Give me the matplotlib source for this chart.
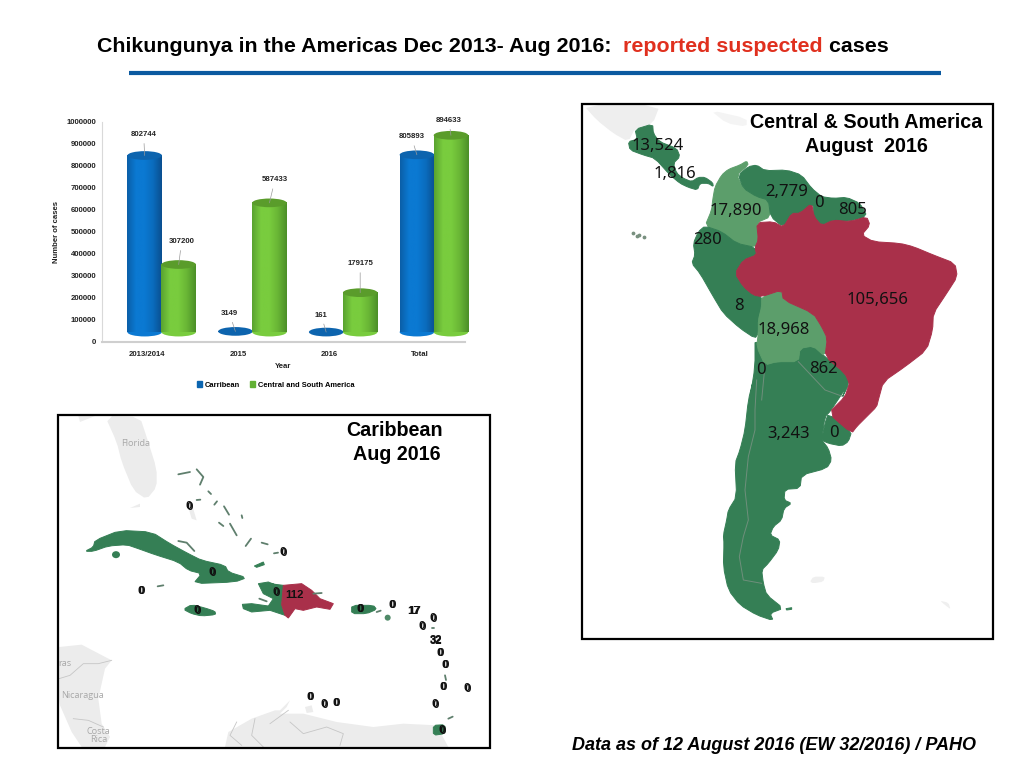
#!/usr/bin/env python3
# -*- coding: utf-8 -*-
"""Chikungunya slide: 3D-look bar chart plus two hand traced maps."""
import numpy as np
import matplotlib
matplotlib.use('Agg')
import matplotlib.pyplot as plt
from matplotlib.colors import LinearSegmentedColormap
from matplotlib.patches import Ellipse, Patch, Polygon, Rectangle

plt.rcParams['font.family'] = ['Liberation Sans', 'DejaVu Sans']

# chart data
years = ['2013/2014', '2015', '2016', 'Total']
carribean = [802744, 3149, 161, 805893]
central_south = [307200, 587433, 179175, 894633]
y_ticks = [0, 100000, 200000, 300000, 400000, 500000, 600000, 700000, 800000, 900000, 1000000]

# map labels (text, x px, y px)
sa_labels = [('13,524', 658, 146), ('1,816', 675, 174), ('2,779', 787, 192), ('0', 819, 203),
             ('805', 853, 210), ('17,890', 736, 211), ('280', 708, 240), ('105,656', 877, 300),
             ('8', 739, 306), ('18,968', 784, 330), ('0', 761, 370), ('862', 823, 369),
             ('3,243', 789, 434), ('0', 834, 433)]
carib_labels = [('0', 189, 506), ('0', 212, 572), ('0', 141, 591), ('0', 197, 610), ('0', 283, 552),
                ('0', 276, 592), ('112', 295, 595), ('0', 360, 609), ('0', 392, 605), ('17', 414, 611),
                ('0', 433, 618), ('0', 422, 626), ('32', 436, 640), ('0', 440, 653), ('0', 445, 665),
                ('0', 443, 687), ('0', 467, 688), ('0', 435, 704), ('0', 310, 697), ('0', 324, 704),
                ('0', 336, 703), ('0', 442, 730)]

GREEN = '#357f55'
LIGHT = '#5c9e6b'
RED = '#a9304a'
GREY = '#ececec'


def z(pts, ox, oy):
    # outlines were traced on 3x crops, back to slide pixels
    return [(ox + x / 3, oy + y / 3) for x, y in pts]


def za(pts):
    return z(pts, 580, 100)


def zb(pts):
    return z(pts, 580, 380)


def zc(pts):
    return z(pts, 55, 412)


def zd(pts):
    return z(pts, 270, 412)


def soften(pts, n=1):
    # corner cutting, the traced outlines are too angular otherwise
    p = np.array(pts, dtype=float)
    for _ in range(n):
        q = np.roll(p, -1, axis=0)
        p = np.column_stack([0.8 * p + 0.2 * q, 0.2 * p + 0.8 * q]).reshape(-1, 2)
    return p


fig = plt.figure(figsize=(10.24, 7.68), dpi=100)
bg = fig.add_axes([0, 0, 1, 1])
bg.set_xlim(0, 1024)
bg.set_ylim(768, 0)
bg.axis('off')

# title, three colours on one baseline
x_pos = 97
rend = fig.canvas.get_renderer()
for txt, col in [('Chikungunya in the Americas Dec 2013- Aug 2016: ', 'black'),
                 ('reported suspected', '#e0301e'), (' cases', 'black')]:
    t = bg.text(x_pos, 52, txt, fontsize=15.4, fontweight='bold', color=col, va='baseline')
    # trailing spaces count for nothing in the extent, so add one by hand
    w = t.get_window_extent(rend).width
    x_pos += w
    if txt.endswith(' '):
        x_pos += 5.9
bg.plot([129, 941], [72.5, 72.5], color='#0b5aa0', lw=3, solid_capstyle='butt')
bg.text(774, 745, 'Data as of 12 August 2016 (EW 32/2016) / PAHO', fontsize=13, fontweight='bold',
        style='italic', ha='center', va='center')


def poly(pts, color, clip=None, smooth=True):
    pts = soften(pts) if smooth else pts
    edge = color if color in (GREEN, LIGHT, RED) else 'none'
    p = Polygon(pts, closed=True, facecolor=color, edgecolor=edge, linewidth=0.7, zorder=2)
    bg.add_patch(p)
    if clip is not None:
        p.set_clip_path(clip)
    return p


# ---------- South America map ----------
sa_box = Rectangle((582, 104), 411, 535, transform=bg.transData)
poly(za([(10, 15), (240, 15), (218, 72), (165, 85), (145, 125), (100, 100), (50, 60)]), '#eeeeee', sa_box)
poly(za([(390, 30), (500, 55), (500, 80), (440, 70)]), '#f4f4f4', sa_box)
poly(za([(165, 88), (218, 72), (220, 100), (238, 125), (290, 145), (300, 170), (280, 190), (290, 220),
         (310, 235), (335, 245), (355, 232), (375, 232), (398, 248), (400, 260), (385, 250), (360, 250),
         (352, 270), (325, 262), (300, 250), (270, 225), (225, 175), (190, 165), (150, 150), (145, 125),
         (172, 118)]), GREEN)
poly(za([(500, 183), (480, 195), (445, 208), (425, 225), (405, 260), (398, 300), (395, 330), (375, 378),
         (425, 395), (470, 430), (525, 442), (535, 420), (530, 368), (572, 350), (565, 300), (530, 290),
         (490, 265), (470, 225), (505, 195)]), LIGHT)
poly(za([(505, 200), (530, 195), (555, 212), (620, 210), (665, 225), (695, 265), (725, 290), (760, 295),
         (800, 292), (840, 310), (862, 350), (800, 365), (760, 360), (725, 377), (700, 350), (700, 310),
         (660, 340), (635, 340), (610, 382), (572, 350), (565, 300), (530, 290), (490, 265), (475, 225)]), GREEN)
poly(za([(375, 378), (425, 395), (470, 430), (525, 442), (530, 465), (490, 480), (465, 520), (490, 560),
         (520, 585), (545, 590), (545, 620), (535, 660), (535, 700), (525, 715), (480, 685), (430, 640),
         (400, 590), (360, 520), (335, 490), (345, 465), (340, 430), (355, 395)]), GREEN)
poly(za([(525, 710), (555, 795), (590, 785), (655, 785), (660, 745), (700, 738), (735, 770), (795, 820),
         (808, 850), (785, 895)]) +
     zb([(800, 20), (750, 95), (735, 110), (725, 180), (745, 205), (755, 240), (740, 265), (665, 285),
         (660, 325), (615, 328), (612, 360), (635, 370), (612, 385), (605, 420), (580, 440), (570, 465),
         (600, 480), (595, 510), (565, 550), (545, 570), (550, 610), (560, 645), (610, 685), (570, 700),
         (580, 722), (530, 705), (480, 675), (445, 630), (430, 560), (432, 490), (430, 465), (440, 420),
         (445, 390), (470, 350), (465, 250), (480, 210), (495, 150), (505, 60), (520, 0)]) +
     za([(510, 895), (525, 800)]), GREEN)
poly(zb([(745, 100), (815, 155), (805, 185), (785, 198), (745, 190), (725, 180), (735, 130)]), GREEN)
poly(za([(545, 590), (605, 570), (610, 600), (700, 640), (725, 680), (742, 715), (735, 770), (700, 738),
         (660, 745), (655, 785), (590, 785), (555, 795), (530, 740), (535, 700), (535, 660), (545, 620)]), LIGHT)
poly(za([(530, 368), (580, 365), (610, 382), (635, 340), (660, 340), (695, 310), (702, 350), (725, 377),
         (760, 360), (810, 365), (860, 350), (870, 375), (845, 405), (880, 425), (960, 430), (1000, 440),
         (1060, 465), (1125, 490), (1132, 530), (1100, 580), (1060, 640), (1058, 690), (1040, 750),
         (975, 800), (910, 845), (895, 900)]) +
     zb([(895, 60), (890, 80), (860, 110), (830, 140), (815, 160), (745, 100), (795, 50), (805, 20)]) +
     za([(808, 850), (795, 820), (735, 770), (742, 715), (725, 680), (700, 640), (610, 600), (605, 570),
         (545, 590), (520, 585), (490, 560), (465, 520), (490, 480), (530, 465), (525, 442), (535, 420)]), RED)
# national borders that show as thin grey lines on the map
for line in [zb([(530, 0), (525, 90), (525, 150), (505, 230), (495, 330), (505, 420), (490, 470), (478, 530),
                 (490, 600), (545, 610)]),
             za([(555, 795), (545, 900)]),
             za([(655, 785), (735, 870), (790, 890)])]:
    xs, ys = zip(*line)
    bg.plot(xs, ys, color='#6f8f7c', lw=0.7, zorder=3)
# Galapagos, Falklands, South Georgia
bg.scatter(*zip(*za([(160, 400), (170, 408), (178, 405), (192, 410)])), s=3, color='#78907f', zorder=3)
poly(zb([(690, 605), (700, 590), (735, 590), (730, 605), (700, 610)]), '#efefef')
poly(zb([(1080, 662), (1105, 668), (1112, 688), (1095, 675)]), '#efefef')
poly(zb([(618, 686), (635, 683), (635, 688), (620, 690)]), GREEN, smooth=False)

# ---------- Caribbean map ----------
ca_box = Rectangle((58, 415), 432, 333, transform=bg.transData)
poly(zc([(70, 12), (120, 12), (75, 30)]), '#eeeeee', smooth=False)
poly(zc([(150, 12), (255, 15), (275, 75), (305, 170), (305, 225), (275, 262), (235, 235), (200, 150),
         (185, 90)]), GREY)
poly(zc([(225, 288), (255, 275), (255, 285)]), GREY, smooth=False)
poly(zc([(395, 270), (410, 275), (425, 325), (410, 320)]), GREY, smooth=False)
poly(zc([(12, 705), (80, 698), (170, 745), (150, 770), (130, 860), (140, 935), (165, 975), (150, 1005),
         (80, 1005), (50, 960), (15, 880), (12, 860)]), GREY, ca_box, smooth=False)
poly(zc([(510, 1005), (520, 960), (590, 920), (660, 895)]) +
     zd([(30, 895), (60, 865), (50, 885), (30, 905), (100, 905), (200, 930), (310, 945), (400, 935),
         (500, 940), (535, 1005)]), GREY, ca_box, smooth=False)
poly(zd([(105, 885), (125, 880), (130, 900), (110, 903)]), GREY, smooth=False)
for line in [zc([(12, 800), (45, 790), (85, 755), (130, 755), (170, 745)]),
             zc([(55, 920), (100, 925), (145, 945)]),
             zc([(545, 930), (525, 970), (560, 1000)]),
             zc([(600, 920), (590, 970), (625, 1005)]),
             zd([(0, 935), (55, 895)]),
             zd([(60, 930), (100, 965), (170, 945), (220, 965), (210, 1000)])]:
    xs, ys = zip(*line)
    bg.plot(xs, ys, color='#c6c6c6', lw=0.6, zorder=2)
poly(zc([(90, 418), (115, 405), (120, 385), (195, 355), (290, 360), (345, 395), (400, 425), (440, 445),
         (510, 460), (520, 480), (575, 497), (540, 510), (415, 515), (440, 485), (400, 475), (370, 450),
         (300, 428), (250, 410), (215, 398), (160, 402), (115, 418)]), GREEN)
bg.add_patch(Ellipse((55 + 183 / 3, 412 + 428 / 3), 8, 7, facecolor=GREEN, zorder=2))
poly(zc([(385, 592), (410, 578), (450, 588), (480, 598), (482, 608), (440, 612), (410, 605)]), GREEN)
poly(zc([(610, 515), (640, 510), (665, 520)]) + zd([(0, 515), (40, 520), (35, 578), (45, 610), (0, 595)]) +
     zc([(590, 600), (565, 590), (562, 577), (590, 575), (640, 582), (655, 560), (625, 545)]), GREEN, smooth=False)
poly(zd([(40, 520), (95, 515), (125, 535), (150, 560), (190, 575), (180, 592), (140, 585), (100, 595),
         (75, 590), (55, 618), (45, 610), (35, 578)]), RED, smooth=False)
poly(zd([(245, 580), (310, 580), (320, 592), (290, 605), (245, 605)]), GREEN)
poly(zd([(490, 940), (525, 938), (525, 965), (490, 970)]), GREEN)
bg.add_patch(Ellipse((270 + 353 / 3, 412 + 617 / 3), 6, 6, facecolor='#4f8a68', zorder=2))
# little islands, just short strokes
for line in [zc([(370, 187), (405, 180)]), zc([(425, 172), (445, 195), (435, 218)]), zc([(460, 238), (468, 246)]),
             zc([(478, 278), (486, 268)]), zc([(507, 283), (522, 308)]), zc([(560, 310), (562, 318)]),
             zc([(492, 332), (505, 342)]), zc([(525, 335), (545, 370)]), zc([(572, 402), (588, 380)]),
             zc([(620, 392), (638, 397)]), zc([(370, 387), (395, 392), (418, 417)]), zc([(308, 523), (325, 520)]),
             zc([(425, 264), (436, 263)]), zc([(613, 560), (635, 568)]), zd([(12, 424), (24, 422)]),
             zd([(320, 600), (332, 596)]), zd([(130, 545), (155, 543)]), zd([(535, 920), (548, 914)]),
             zd([(525, 790), (528, 804)]), zd([(487, 648), (493, 648)])]:
    xs, ys = zip(*line)
    bg.plot(xs, ys, color='#5f7f6d', lw=1.3, zorder=2, solid_capstyle='round')
poly(zc([(598, 462), (625, 450), (628, 458), (605, 466)]), GREEN, smooth=False)

for txt, x, y in sa_labels:
    bg.text(x, y, txt, fontsize=12, fontweight='bold', family=['Noto Sans'], color='#111111',
            ha='center', va='center', zorder=5)
for txt, x, y in carib_labels:
    bg.text(x, y, txt, fontsize=8.2, fontweight='bold', color='#111111', ha='center', va='center', zorder=5)
    if txt in ('0', '17', '32'):
        # the slide has these double printed, so they look heavier
        bg.text(x + 0.5, y + 0.5, txt, fontsize=8.2, fontweight='bold', color='#111111', ha='center',
                va='center', zorder=5)

for txt, y in [('Central & South America', 122), ('August  2016', 146)]:
    bg.text(866, y, txt, fontsize=14.2, fontweight='bold', ha='center', va='center', zorder=6)
bg.text(395, 430, 'Caribbean', fontsize=14.2, fontweight='bold', ha='center', va='center', zorder=6)
bg.text(397, 454, 'Aug 2016', fontsize=14.2, fontweight='bold', ha='center', va='center', zorder=6)

for (txt, x, y, fs) in [('Florida', 136, 443, 6.6), ('ras', 65, 663, 6.6), ('Nicaragua', 83, 696, 6.6),
                        ('Costa', 98, 731, 6.6), ('Rica', 99, 740, 6.6)]:
    bg.text(x, y, txt, fontsize=fs, family=['Open Sans'], color='#a8a8a8', ha='center', va='center', zorder=3)

for box in [(582, 104, 411, 535), (58, 415, 432, 333)]:
    bg.add_patch(Rectangle(box[:2], box[2], box[3], fill=False, edgecolor='black', linewidth=1.6, zorder=7))

# ---------- bar chart ----------
ax = fig.add_axes([102 / 1024, 1 - 342 / 768, 363 / 1024, 220 / 768])
ax.patch.set_alpha(0)
WIDTH = 0.38
LIFT = 45000  # cylinders float a bit above the floor in the 3D style
ELL_H = 39500
X_SHIFT = [-0.03, 0.345]
blue_cm = LinearSegmentedColormap.from_list('b', ['#0a5fa8', '#0b79d2', '#0b79d2', '#0a6cbd', '#0a4f90'])
green_cm = LinearSegmentedColormap.from_list('g', ['#5aa330', '#79cc3e', '#79cc3e', '#68b535', '#4c8f28'])
grad = np.linspace(0, 1, 64).reshape(1, -1)

# leader offsets from bar top to value label, in px
offs = [[(-1, 21), (-6, 18), (-5, 17), (-5.5, 18)], [(3, 23), (5.5, 23), (0, 29), (-2, 15)]]
series = [('Carribean', carribean, blue_cm, '#0d64ae', '#0b5f9f'),
          ('Central and South America', central_south, green_cm, '#5a9c2b', '#5a9c2b')]
for s, (name, vals, cm, top_c, leg_c) in enumerate(series):
    xs = np.arange(len(vals)) + X_SHIFT[s]
    bars = ax.bar(xs, vals, WIDTH, bottom=LIFT, color=leg_c, linewidth=0, zorder=2 + s, label=name, clip_on=False)
    for i, (x, v, b) in enumerate(zip(xs, vals, bars)):
        z0 = 2 + s
        if v > 10000:
            ax.add_patch(Ellipse((x, LIFT), WIDTH, ELL_H, facecolor=cm(0.5), zorder=z0, clip_on=False))
            im = ax.imshow(grad, cmap=cm, aspect='auto', extent=(x - WIDTH / 2, x + WIDTH / 2, LIFT, LIFT + v),
                           zorder=z0 + 0.1, clip_on=False)
        ax.add_patch(Ellipse((x, LIFT + v), WIDTH, ELL_H, facecolor=top_c, zorder=z0 + 0.2, clip_on=False))
        ax.annotate(str(v), xy=(x, LIFT + v), xytext=(offs[s][i][0] * 0.72, offs[s][i][1] * 0.72),
                    textcoords='offset points', ha='center', va='center', fontsize=5.6, fontweight='bold',
                    color='#222222', annotation_clip=False, zorder=6,
                    arrowprops=dict(arrowstyle='-', color='#9a9a9a', lw=0.5, shrinkA=2, shrinkB=0))

ax.set_xlim(-0.5, 3.5)
ax.set_ylim(0, 1000000)
ax.set_xticks(range(len(years)))
ax.set_xticklabels(years)
ax.set_yticks(y_ticks)
ax.set_yticklabels([str(v) for v in y_ticks])
ax.tick_params(length=0, labelsize=5.6, pad=4)
ax.tick_params(axis='x', pad=6.5)
for lab in ax.get_xticklabels() + ax.get_yticklabels():
    lab.set_fontweight('bold')
    lab.set_color('#222222')
for sp in ['top', 'right']:
    ax.spines[sp].set_visible(False)
ax.spines['left'].set_color('#d9d9d9')
ax.spines['bottom'].set_color('#cfcfcf')
ax.spines['bottom'].set_linewidth(1.5)
ax.set_xlabel('Year', fontsize=5.6, fontweight='bold', color='#222222')
ax.set_ylabel('Number of cases', fontsize=5.6, fontweight='bold', color='#222222')
ax.xaxis.set_label_coords(0.5, -0.095)
ax.yaxis.set_label_coords(-0.116, 0.5)
ax.legend(handles=[Patch(color='#0b65b0', label='Carribean'), Patch(color='#62b034', label='Central and South America')],
          loc='center', bbox_to_anchor=(0.479, -0.195), ncol=2, frameon=False, handlelength=0.7,
          handleheight=0.7, handletextpad=0.35, columnspacing=1.3, prop={'size': 5.4, 'weight': 'bold'})

fig.savefig('out.png', dpi=100)
plt.close(fig)
